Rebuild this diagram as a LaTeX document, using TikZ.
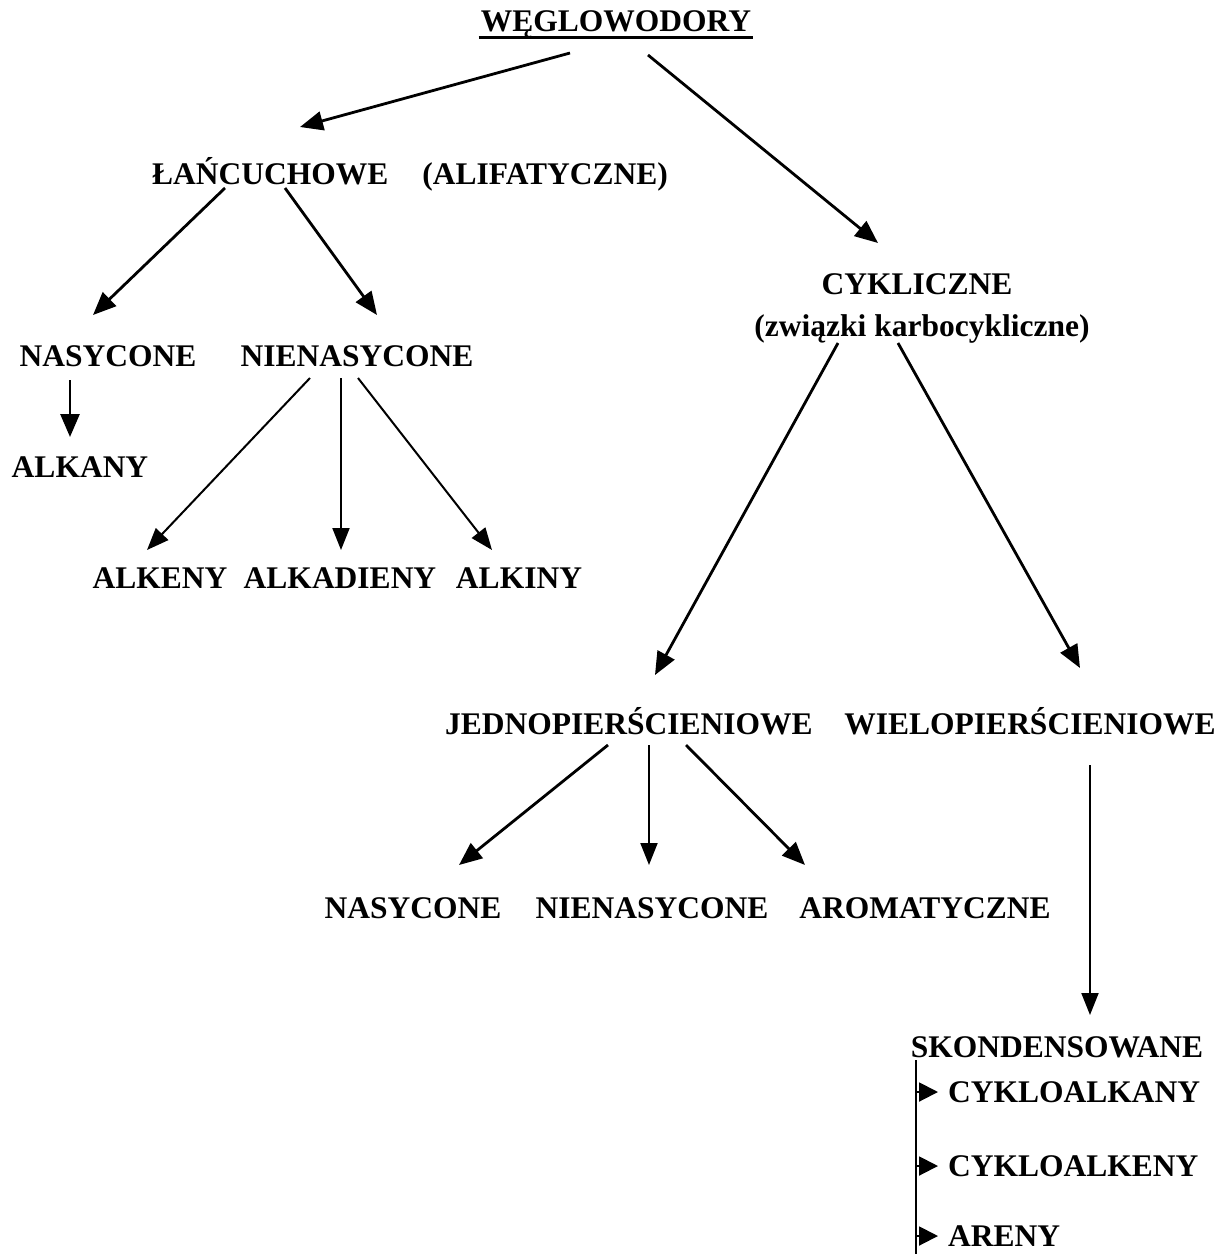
\documentclass[tikz,border=0pt]{standalone}
\usepackage{fontspec}
\setmainfont{Liberation Serif}
\usetikzlibrary{arrows.meta,calc}
\begin{document}
\begin{tikzpicture}[x=1pt,y=-1pt,
  lbl/.style={inner sep=0pt,anchor=base,font=\fontsize{31.5}{36}\selectfont\bfseries},
  lblw/.style={lbl,anchor=base west},
  arr/.style={line width=2.8pt,-{Triangle[length=23pt,width=19pt]}},
  arrthin/.style={line width=2pt,-{Triangle[length=22pt,width=17pt]}},
  tick/.style={line width=2pt,-{Triangle[length=19pt,width=19pt]}}]
\useasboundingbox (0,0) rectangle (1229,1254);
\node[lbl] (wegl) at (616,31) {WĘGLOWODORY};
\draw[line width=3pt] ($(wegl.base west)+(-2,6)$) -- ($(wegl.base east)+(2,6)$);
\node[lbl] (lanc) at (410,184) {ŁAŃCUCHOWE\hspace{34pt}(ALIFATYCZNE)};
\node[lbl] (cykl) at (917,294) {CYKLICZNE};
\node[lbl] (cyklb) at (922,336) {(związki karbocykliczne)};
\node[lbl] (nas1) at (108,366) {NASYCONE};
\node[lbl] (nien1) at (357,366) {NIENASYCONE};
\node[lbl] (alkany) at (80,477) {ALKANY};
\node[lbl] (alkeny) at (160,588) {ALKENY};
\node[lbl] (alkad) at (340,588) {ALKADIENY};
\node[lbl] (alkiny) at (519,588) {ALKINY};
\node[lbl] (jedno) at (629,734) {JEDNOPIERŚCIENIOWE};
\node[lbl] (wielo) at (1030,734) {WIELOPIERŚCIENIOWE};
\node[lbl] (nas2) at (413,918) {NASYCONE};
\node[lbl] (nien2) at (652,918) {NIENASYCONE};
\node[lbl] (arom) at (925,918) {AROMATYCZNE};
\node[lbl] (skond) at (1057,1057) {SKONDENSOWANE};
\node[lblw] (cyka) at (948,1102) {CYKLOALKANY};
\node[lblw] (cyke) at (948,1176) {CYKLOALKENY};
\node[lblw] (aren) at (948,1246) {ARENY};
\coordinate (bend) at (916,1254);
% top level
\draw[arr] ($(wegl.base)+(-46,22)$) -- ($(lanc.base)+(-110,-57)$);
\draw[arr] ($(wegl.base)+(32,24)$) -- ($(cykl.base)+(-39,-51)$);
% chain branch
\draw[arr] ($(lanc.base)+(-185,4)$) -- ($(nas1.base)+(-15,-51)$);
\draw[arr] ($(lanc.base)+(-125,4)$) -- ($(nien1.base)+(20,-51)$);
\draw[arr] ($(nas1.base)+(-38,14)$) -- ($(alkany.base)+(-10,-40)$);
\draw[arrthin] ($(nien1.base)+(-47,12)$) -- ($(alkeny.base)+(-13,-38)$);
\draw[arrthin] ($(nien1.base)+(-16,12)$) -- ($(alkad.base)+(1,-38)$);
\draw[arrthin] ($(nien1.base)+(1,12)$) -- ($(alkiny.base)+(-27,-38)$);
% cyclic branch
\draw[arr] ($(cyklb.base)+(-84,7)$) -- ($(jedno.base)+(26,-59)$);
\draw[arr] ($(cyklb.base)+(-24,7)$) -- ($(wielo.base)+(50,-66)$);
\draw[arr] ($(jedno.base)+(-21,11)$) -- ($(nas2.base)+(46,-53)$);
\draw[arrthin] ($(jedno.base)+(20,11)$) -- ($(nien2.base)+(-3,-53)$);
\draw[arr] ($(jedno.base)+(57,11)$) -- ($(arom.base)+(-120,-53)$);
\draw[arrthin] ($(wielo.base)+(60,31)$) -- ($(skond.base)+(33,-42)$);
% condensed
\draw[line width=2pt] ($(skond.base)+(-141,3)$) -- (bend);
\draw[tick] ($(cyka.base west)+(-32,-10)$) -- ($(cyka.base west)+(-10,-10)$);
\draw[tick] ($(cyke.base west)+(-32,-10)$) -- ($(cyke.base west)+(-10,-10)$);
\draw[tick] ($(aren.base west)+(-32,-10)$) -- ($(aren.base west)+(-10,-10)$);
\end{tikzpicture}
\end{document}
